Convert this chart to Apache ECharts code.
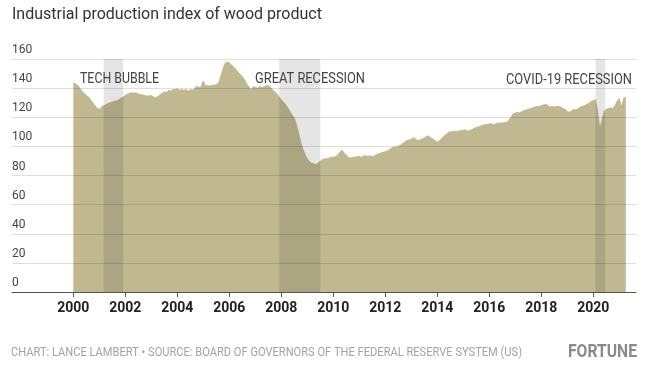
<!DOCTYPE html>
<html>
<head>
<meta charset="utf-8">
<script src="https://cdn.jsdelivr.net/npm/echarts@6/dist/echarts.min.js"></script>
<style>
html,body{margin:0;padding:0;background:#fff;}
#chart{width:647px;height:373px;}
</style>
</head>
<body>
<div id="chart"></div>
<script>
// Monthly index values, Jan 2000 .. Apr 2021
const startYear = 2000;
const values = [
  // 2000
  143.5,143,142,140,138,136.5,135,134,132,130,128,126,
  // 2001
  125.5,127,128,128.5,129.5,130,130.5,131,131.5,132,133,134,
  // 2002
  135,136,136.5,137,136.5,136.8,136,135.5,135.5,135,134.5,134.8,
  // 2003
  135,134,133.5,134,135.5,136.5,137.5,137,138.5,138,139,139,
  // 2004
  139.5,138.5,139,138.5,139,138,139,138.5,139.5,141.5,140.5,141,
  // 2005
  145,141.5,142,141.5,142,142,142.5,143.5,148,153,157,158,
  // 2006
  157.5,156,154.5,153,151,149.5,148,146,143,141,139,141,
  // 2007
  140.5,140,141,140.5,141,141.5,142,140.5,139,137.5,136,134,
  // 2008
  132,130.5,128.5,126.5,124,121.5,119.5,115,109,103,98,94.5,
  // 2009
  91.5,89.5,88.5,88,87.5,88.5,90,91,91.5,91.5,92,92.5,
  // 2010
  92.5,93,94,96,97.5,95.5,94,92.5,92,92.5,92.5,93,
  // 2011
  93,92.5,93.5,93.5,93,93.5,93,93.5,94.5,95,95.5,96,
  // 2012
  96.5,97,98,99,99.5,99.5,100,101,102,103,104,104.5,
  // 2013
  105,106,105,104,104.5,105,106,107,107,106,105,104,
  // 2014
  103,104,105.5,107,108,109.5,110,110,110.5,110,110.5,111,
  // 2015
  111,111.5,110.5,111,111.5,112.5,113,113.5,114,114.5,115,115,
  // 2016
  115.5,115.5,115,115.5,116,116,116,116.5,116.5,118,120,122.5,
  // 2017
  123,123.5,123,124,124.5,125,125.5,126,126.5,127,127.5,127.5,
  // 2018
  128,128.5,129,128,127,127.5,127,127.5,127.5,127,126,125.5,
  // 2019
  124,123.5,124.5,125.5,125,126,127,127.5,128,129,129.5,131,
  // 2020
  131.5,132,124,112,118,124,125.5,126,126.5,126,128,131,
  // 2021
  133,127,133,134
];
const yearTicks = [2000,2002,2004,2006,2008,2010,2012,2014,2016,2018,2020];
const gridValues = [20,40,60,80,100,120,140,160];
const recessionNames = ['TECH BUBBLE','GREAT RECESSION','COVID-19 RECESSION'];
const recessionStart = [2001.167, 2007.917, 2020.083];
const recessionEnd = [2001.917, 2009.5, 2020.458];

const seriesData = values.map((v, i) => [startYear + i / 12, v]);

function measure(text, font) {
  const c = document.createElement('canvas').getContext('2d');
  c.font = font;
  return c.measureText(text).width;
}
function fitText(text, font, x, y, width, fill) {
  const w = measure(text, font);
  return {
    type: 'text', x: x, y: y, scaleX: width / w, scaleY: 1, z: 20,
    style: { text: text, font: font, fill: fill, align: 'left', verticalAlign: 'middle',
             textAlign: 'left', textVerticalAlign: 'middle' }
  };
}

const annFont = '15px Roboto';
const chart = echarts.init(document.getElementById('chart'), null, {renderer: 'canvas'});
chart.setOption({
  animation: false,
  backgroundColor: '#ffffff',
  grid: { left: 12, right: 11, top: 59, bottom: 81 },
  xAxis: {
    type: 'value', min: 1997.642, max: 2021.642, z: 5,
    splitLine: { show: false },
    axisLine: { show: true, lineStyle: { color: '#555', width: 1 } },
    axisTick: { show: true, customValues: yearTicks, length: 5, lineStyle: { color: '#555' } },
    axisLabel: { customValues: yearTicks, formatter: v => String(Math.round(v)),
                 margin: 9, fontFamily: 'Roboto', fontWeight: 'bold', fontSize: 14, color: '#222' }
  },
  yAxis: {
    type: 'value', min: 0, max: 160, interval: 20,
    axisLine: { show: false }, axisTick: { show: false },
    splitLine: { show: false },
    axisLabel: { inside: true, margin: 0, verticalAlign: 'bottom', padding: [0,0,3,0],
                 fontFamily: 'Roboto', fontSize: 12, lineHeight: 12, color: '#444' }
  },
  series: [
    {
      type: 'line', data: seriesData, showSymbol: false, z: 2,
      lineStyle: { width: 0.8, color: '#bdb68f' },
      areaStyle: { color: '#bfb891', opacity: 1 }
    },
    {
      type: 'line', data: [], z: 10,
      markArea: {
        silent: true, z: 10,
        itemStyle: { color: 'rgba(0,0,0,0.1)' },
        label: { show: false },
        data: recessionStart.map((s, i) => [{ xAxis: s, yAxis: 0 }, { xAxis: recessionEnd[i], yAxis: 160 }])
      },
      markLine: {
        silent: true, z: 11, symbol: ['none', 'none'],
        label: { show: false },
        lineStyle: { color: 'rgba(0,0,0,0.13)', width: 1, type: 'solid' },
        emphasis: { disabled: true },
        data: gridValues.map(v => ({ yAxis: v }))
      }
    }
  ],
  graphic: [
    { type: 'text', x: 12, y: 15, z: 20,
      style: { text: 'Industrial production index of wood product', font: '16px Roboto', fill: '#333',
               align: 'left', verticalAlign: 'middle', textAlign: 'left', textVerticalAlign: 'middle' } },
    fitText(recessionNames[0], annFont, 80, 79, 79, '#444'),
    fitText(recessionNames[1], annFont, 255, 79, 110, '#444'),
    fitText(recessionNames[2], annFont, 506, 80.5, 126, '#444'),
    fitText('CHART: LANCE LAMBERT \u2022 SOURCE: BOARD OF GOVERNORS OF THE FEDERAL RESERVE SYSTEM (US)',
            '12px Roboto', 11, 353, 511, '#a3a3a3'),
    fitText('FORTUNE', 'bold 18px Roboto', 568, 352, 69, '#8a8a8a')
  ]
});
</script>
</body>
</html>
